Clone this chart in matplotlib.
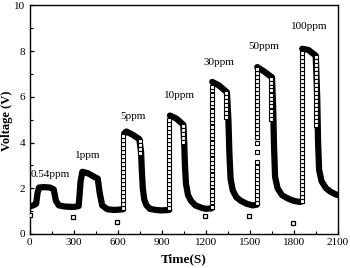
import matplotlib
matplotlib.use("Agg")
from matplotlib import pyplot as plt
from matplotlib.ticker import MultipleLocator
import numpy as np

plt.rcParams['font.family'] = ['Liberation Serif', 'DejaVu Serif']

# slow parts of the response (drawn as the thick black band)
t_low = [0, 25, 45, 55, 65, 100, 140, 165, 180, 200, 240, 300, 335, 348, 360, 400, 440, 465, 478, 495, 530, 580, 638]
v_low = [1.2, 1.25, 1.32, 1.8, 2.03, 2.05, 2.03, 1.95, 1.45, 1.25, 1.2, 1.18, 1.22, 2.3, 2.72, 2.65, 2.5, 2.42, 1.8, 1.25, 1.08, 1.05, 1.08]

t_5ppm = [645, 660, 700, 748, 760, 765, 772, 782, 797, 820, 860, 900, 952]
v_5ppm = [4.4, 4.48, 4.35, 4.15, 3.6, 2.8, 2.0, 1.5, 1.25, 1.1, 1.05, 1.03, 1.05]

t_10ppm = [957, 1000, 1048, 1054, 1059, 1066, 1080, 1100, 1130, 1170, 1200, 1240]
v_10ppm = [5.18, 5.05, 4.78, 4.0, 3.0, 2.2, 1.7, 1.45, 1.25, 1.15, 1.1, 1.12]

t_30ppm = [1245, 1290, 1345, 1355, 1362, 1370, 1385, 1410, 1440, 1480, 1520, 1548]
v_30ppm = [6.65, 6.5, 6.2, 5.0, 3.5, 2.4, 1.9, 1.6, 1.45, 1.32, 1.25, 1.28]

t_50ppm = [1552, 1600, 1652, 1660, 1666, 1673, 1690, 1720, 1760, 1800, 1840, 1855]
v_50ppm = [7.3, 7.1, 6.85, 5.5, 3.8, 2.5, 2.0, 1.7, 1.55, 1.45, 1.4, 1.42]

t_100ppm = [1858, 1900, 1950, 1960, 1966, 1973, 1990, 2020, 2050, 2080, 2100]
v_100ppm = [8.1, 8.05, 7.8, 6.0, 4.0, 2.8, 2.3, 2.0, 1.85, 1.75, 1.7]

# fast rising edges (sparse points, open squares)
rise_t = [638, 952, 1240, 1548, 1855]
rise_v = [
    [1.15, 1.32, 1.5, 1.68, 1.85, 2.02, 2.2, 2.38, 2.55, 2.72, 2.9, 3.08, 3.25, 3.42, 3.6, 3.78, 3.95, 4.12, 4.3],
    [1.15, 1.32, 1.5, 1.68, 1.85, 2.02, 2.2, 2.38, 2.55, 2.72, 2.9, 3.08, 3.25, 3.42, 3.6, 3.78, 3.95, 4.12,
     4.3, 4.48, 4.65, 4.82, 5.0],
    [1.2, 1.38, 1.55, 1.72, 1.9, 2.08, 2.25, 2.42, 2.6, 2.78, 2.95, 3.12, 3.3, 3.48, 3.65, 3.82, 4.0, 4.18,
     4.35, 4.52, 4.7, 4.88, 5.05, 5.22, 5.4, 5.58, 5.75, 5.92, 6.1, 6.28, 6.45],
    [1.35, 1.52, 1.7, 1.88, 2.05, 2.22, 2.4, 2.58, 2.75, 2.92, 3.15, 3.6, 4.0, 4.25, 4.42, 4.6, 4.78, 4.95,
     5.12, 5.3, 5.48, 5.65, 5.82, 6.0, 6.18, 6.35, 6.52, 6.7, 6.88, 7.05, 7.2],
    [1.45, 1.62, 1.8, 1.98, 2.15, 2.32, 2.5, 2.68, 2.85, 3.02, 3.2, 3.38, 3.55, 3.72, 3.9, 4.08, 4.25, 4.42,
     4.6, 4.78, 4.95, 5.12, 5.3, 5.48, 5.65, 5.82, 6.0, 6.18, 6.35, 6.52, 6.7, 6.88, 7.05, 7.22, 7.4, 7.58,
     7.75, 7.92],
]

# first points of the falling edges
fall_t = [752, 1046, 1340, 1647, 1952]
fall_v = [
    [4.05, 3.88, 3.7, 3.52],
    [4.72, 4.55, 4.38, 4.2, 4.02],
    [6.15, 5.98, 5.8, 5.62, 5.45, 5.28, 5.1],
    [6.8, 6.62, 6.45, 6.28, 6.1, 5.92, 5.75, 5.58, 5.4, 5.22, 5.05],
    [7.75, 7.58, 7.4, 7.22, 7.05, 6.88, 6.7, 6.52, 6.35, 6.18, 6.0, 5.82, 5.65, 5.48, 5.3, 5.12, 4.95, 4.78],
]

# stray low points
stray_t = [2, 298, 596, 1198, 1496, 1797]
stray_v = [0.84, 0.73, 0.54, 0.79, 0.77, 0.5]

labels = ["0.54ppm", "1ppm", "5ppm", "10ppm", "30ppm", "50ppm", "100ppm"]
label_t = [140, 400, 705, 1025, 1288, 1597, 1903]
label_v = [2.62, 3.45, 5.15, 6.05, 7.5, 8.2, 9.08]

fig = plt.figure(figsize=(3.5, 2.68), dpi=100)
ax = fig.add_axes([0.0843, 0.127, 0.8807, 0.853])

segments = [(t_low, v_low), (t_5ppm, v_5ppm), (t_10ppm, v_10ppm), (t_30ppm, v_30ppm),
            (t_50ppm, v_50ppm), (t_100ppm, v_100ppm)]
for ts, vs in segments:
    ax.plot(ts, vs, color="black", lw=4.5, solid_capstyle="round", solid_joinstyle="round", zorder=2)

for t, vs in zip(rise_t, rise_v):
    ax.plot([t] * len(vs), vs, ls="none", marker="s", ms=2.5, mew=0.8, mfc="white", mec="black", zorder=3)
for t, vs in zip(fall_t, fall_v):
    ax.plot([t] * len(vs), vs, ls="none", marker="s", ms=2.5, mew=0.8, mfc="white", mec="black", zorder=3)

ax.plot(stray_t, stray_v, ls="none", marker="s", ms=3.2, mew=0.9, mfc="white", mec="black", zorder=3)

for s, t, v in zip(labels, label_t, label_v):
    ax.text(t, v, s, fontsize=8, ha="center", va="center")

ax.set_xlim(0, 2100)
ax.set_ylim(0, 10)
ax.xaxis.set_major_locator(MultipleLocator(300))
ax.xaxis.set_minor_locator(MultipleLocator(150))
ax.yaxis.set_major_locator(MultipleLocator(2))
ax.yaxis.set_minor_locator(MultipleLocator(1))
ax.tick_params(which="both", direction="in", top=False, right=False, labelsize=8, pad=3)
ax.tick_params(which="major", length=3, width=0.9)
ax.tick_params(which="minor", length=2, width=0.8)
for sp in ax.spines.values():
    sp.set_linewidth(1.0)

ax.set_xlabel("Time(S)", fontsize=9.5, fontweight="bold", labelpad=4.5)
ax.set_ylabel("Voltage (V)", fontsize=9, fontweight="bold")
ax.yaxis.set_label_coords(-0.054, 0.494)

fig.savefig("out.png", dpi=100)
